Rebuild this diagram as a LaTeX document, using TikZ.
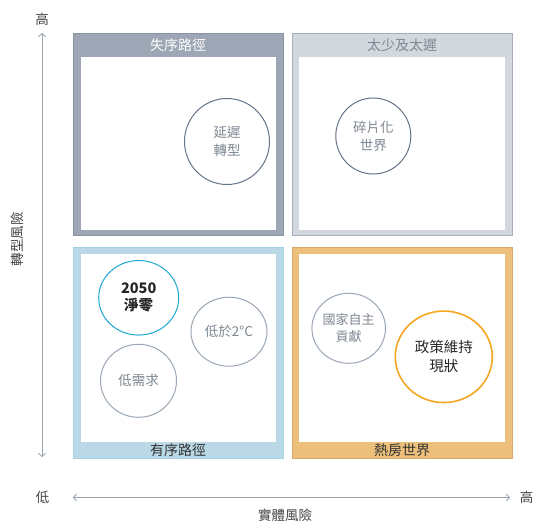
\documentclass[tikz,border=0pt]{standalone}
\usepackage{fontspec}
\setmainfont{Noto Sans CJK TC}
\usetikzlibrary{arrows.meta,shapes.geometric}
\definecolor{tlfill}{HTML}{9DA6B4}
\definecolor{tlline}{HTML}{8A94A3}
\definecolor{trfill}{HTML}{D3D7DE}
\definecolor{trline}{HTML}{A5AEBB}
\definecolor{blfill}{HTML}{BAD8E6}
\definecolor{blline}{HTML}{A5D1E8}
\definecolor{brfill}{HTML}{ECBF7B}
\definecolor{brline}{HTML}{D9A868}
\definecolor{darkring}{HTML}{66768A}
\definecolor{lightring}{HTML}{9AA6B6}
\definecolor{cyanring}{HTML}{1BA8D4}
\definecolor{orangering}{HTML}{F5A623}
\definecolor{greytext}{HTML}{7E8792}
\definecolor{axisline}{HTML}{9AA4AE}
\definecolor{axistext}{HTML}{444444}
\tikzset{
  frame/.style={line width=0.8pt},
  inner/.style={fill=white,draw=none},
  ring/.style={ellipse, draw, line width=1pt, align=center, font=\fontsize{13.5}{18}\selectfont, inner sep=0pt},
  band/.style={font=\fontsize{14}{15}\selectfont, inner sep=0pt},
  axlabel/.style={font=\fontsize{13.5}{15}\selectfont, text=axistext, inner sep=0pt},
  axis/.style={draw=axisline, line width=0.9pt, {Straight Barb[length=3pt,width=7pt]}-{Straight Barb[length=3pt,width=7pt]}}
}
\begin{document}
\begin{tikzpicture}[x=1pt,y=-1pt]
\useasboundingbox (0,0) rectangle (533,523);
% frames
\draw[frame, fill=tlfill, draw=tlline] (73.5,33.5) rectangle (283,235.5);
\fill[inner] (81,57) rectangle (276,229.5);
\draw[frame, fill=trfill, draw=trline] (292.5,33.5) rectangle (512,235.5);
\fill[inner] (299,57) rectangle (504.5,229.5);
\draw[frame, fill=blfill, draw=blline] (73.5,247) rectangle (283,458);
\fill[inner] (81,254) rectangle (276,442);
\draw[frame, fill=brfill, draw=brline] (292.5,247) rectangle (512,458);
\fill[inner] (299,254) rectangle (504.5,442);
% band labels
\node[band, text=white] (t1) at (178,45) {失序路徑};
\node[band, text=greytext] (t2) at (402,45) {太少及太遲};
\node[band, text=black!80] (t3) at (178,450) {有序路徑};
\node[band, text=black!80] (t4) at (402,450) {熱房世界};
% circles
\node[ring, draw=darkring, text=greytext, minimum width=85pt, minimum height=86pt] (c1) at (227,141.5) {延遲\\轉型};
\node[ring, draw=darkring, text=greytext, minimum width=75pt, minimum height=76pt] (c2) at (373.3,136) {碎片化\\世界};
\node[ring, draw=cyanring, text=black!85, minimum width=80pt, minimum height=74.5pt, font=\fontsize{14.5}{17}\selectfont\bfseries] (c3) at (138.7,297.8) {2050\\淨零};
\node[ring, draw=lightring, text=greytext, minimum width=76pt, minimum height=69pt] (c4) at (229,331.7) {低於2°C};
\node[ring, draw=lightring, text=greytext, minimum width=76pt, minimum height=73pt] (c5) at (138.5,380.8) {低需求};
\node[ring, draw=lightring, text=greytext, minimum width=72pt, minimum height=70pt, font=\fontsize{13}{17}\selectfont] (c6) at (348.7,328.3) {國家自主\\貢獻};
\node[ring, draw=orangering, text=black!85, line width=1.6pt, minimum width=97pt, minimum height=91.5pt, font=\fontsize{14.5}{19}\selectfont] (c7) at (443.8,356.8) {政策維持\\現狀};
% axes
\coordinate (vtop) at (42,33);
\coordinate (vbot) at (42,457);
\coordinate (hl) at (73,497.5);
\coordinate (hr) at (510,497.5);
\draw[axis] (vbot) -- (vtop);
\draw[axis] (hl) -- (hr);
\node[axlabel] (yhigh) at (42,19) {高};
\node[axlabel, rotate=90] (ytitle) at (17,239) {轉型風險};
\node[axlabel] (xlow) at (42.5,497) {低};
\node[axlabel] (xhigh) at (526.5,497) {高};
\node[axlabel] (xtitle) at (285,515.5) {實體風險};
\end{tikzpicture}
\end{document}
